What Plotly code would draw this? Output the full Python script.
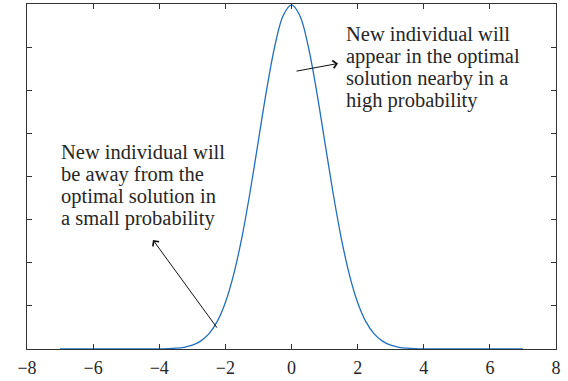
import plotly.graph_objects as go

# x positions and density values (bell curve)
x_vals = [-7, -6, -5, -4.5, -4, -3.75, -3.5, -3.25, -3, -2.75, -2.5, -2.25, -2, -1.75, -1.5,
          -1.25, -1, -0.75, -0.5, -0.25, 0, 0.25, 0.5, 0.75, 1, 1.25, 1.5, 1.75, 2, 2.25,
          2.5, 2.75, 3, 3.25, 3.5, 3.75, 4, 4.5, 5, 6, 7]
y_vals = [0.0, 0.0, 0.0, 0.0, 0.0001, 0.0004, 0.0009, 0.0020, 0.0044, 0.0091, 0.0175, 0.0317,
          0.0540, 0.0863, 0.1295, 0.1826, 0.2420, 0.3011, 0.3521, 0.3867, 0.3989, 0.3867,
          0.3521, 0.3011, 0.2420, 0.1826, 0.1295, 0.0863, 0.0540, 0.0317, 0.0175, 0.0091,
          0.0044, 0.0020, 0.0009, 0.0004, 0.0001, 0.0, 0.0, 0.0, 0.0]

x_ticks = [-8, -6, -4, -2, 0, 2, 4, 6, 8]
y_ticks = [0.05, 0.1, 0.15, 0.2, 0.25, 0.3, 0.35]

lines_left = ["New individual will", "be away from the", "optimal solution in", "a small probability"]
lines_right = ["New individual will", "appear in the optimal", "solution nearby in a", "high probability"]

serif = "Liberation Serif, Times New Roman, serif"
TXT = "#262626"

# pixel geometry of plot area
L, R, T, B = 27, 556, 3, 351
def px2x(px):
    return -8 + (px - L) * 16 / (R - L)
def px2y(py):
    return 0.4 * (B - py) / (B - T)

fig = go.Figure()
fig.add_trace(go.Scatter(x=x_vals, y=y_vals, mode="lines",
                         line=dict(color="#1f6fbf", width=1.3, shape="spline"),
                         showlegend=False, hoverinfo="skip"))

annots = []
line_gap = 22.5
for i, t in enumerate(lines_left):
    annots.append(dict(text=t, x=px2x(59), y=px2y(152 + i * line_gap), xref="x", yref="y",
                       xanchor="left", yanchor="middle", align="left", showarrow=False,
                       font=dict(family=serif, size=20.5, color=TXT)))
for i, t in enumerate(lines_right):
    annots.append(dict(text=t, x=px2x(344), y=px2y(33 + i * line_gap), xref="x", yref="y",
                       xanchor="left", yanchor="middle", align="left", showarrow=False,
                       font=dict(family=serif, size=20.5, color=TXT)))
annots.append(dict(text="", x=px2x(153), y=px2y(241), ax=px2x(218), ay=px2y(331),
                   xref="x", yref="y", axref="x", ayref="y", showarrow=True,
                   arrowhead=4, arrowsize=1.5, arrowwidth=1, arrowcolor="#111"))
annots.append(dict(text="", x=px2x(338), y=px2y(63), ax=px2x(295), ay=px2y(71),
                   xref="x", yref="y", axref="x", ayref="y", showarrow=True,
                   arrowhead=4, arrowsize=1.5, arrowwidth=1, arrowcolor="#111"))

fig.update_layout(
    width=568, height=381,
    margin=dict(l=L, r=568 - R, t=T, b=381 - B),
    paper_bgcolor="white", plot_bgcolor="white",
    font=dict(family=serif, size=18, color=TXT),
    xaxis=dict(range=[-8, 8], tickvals=x_ticks, ticks="inside", ticklen=5,
               tickcolor="#333", showline=True, linecolor="#333", linewidth=1,
               mirror="ticks", showgrid=False, zeroline=False, ticklabelstandoff=2,
               tickfont=dict(family=serif, size=18, color=TXT)),
    yaxis=dict(range=[0, 0.4], tickvals=y_ticks, ticks="inside", ticklen=5,
               tickcolor="#333", showticklabels=False, showline=True, linecolor="#333",
               linewidth=1, mirror="ticks", showgrid=False, zeroline=False),
    annotations=annots,
)

fig.write_html("out.html")
